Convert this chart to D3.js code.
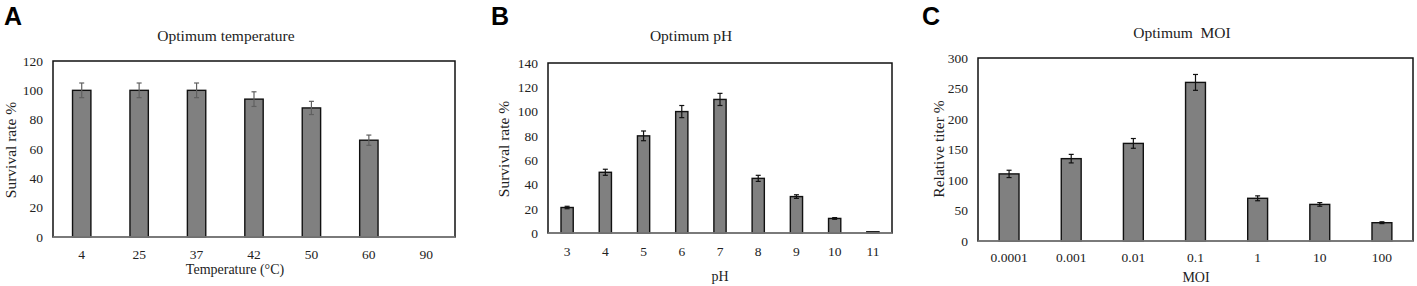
<!DOCTYPE html>
<html>
<head>
<meta charset="utf-8">
<script src="https://cdn.jsdelivr.net/npm/d3@7"></script>
<style>
    body { margin: 0; background: #fff; }
    svg text { font-family: "Liberation Serif", "Times New Roman", serif; fill: #222; }
    svg text.letter { font-family: "Liberation Sans", Arial, sans-serif; font-weight: bold; fill: #000; }
</style>
</head>
<body>
<div id="chart"></div>
<script>
// Panel A: temperature
const tempCats = ['4', '25', '37', '42', '50', '60', '90'];
const tempVals = [100, 100, 100, 94, 88, 66, 0];
const tempErr = [5, 5, 5, 5, 4.5, 3.5, 0];
const tempTicks = [0, 20, 40, 60, 80, 100, 120];

// Panel B: pH
const phCats = ['3', '4', '5', '6', '7', '8', '9', '10', '11'];
const phVals = [21, 50, 80, 100, 110, 45, 30, 12, 1];
const phErr = [1, 2.5, 4, 5, 5, 2.5, 1.5, 0.7, 0];
const phTicks = [0, 20, 40, 60, 80, 100, 120, 140];

// Panel C: MOI
const moiCats = ['0.0001', '0.001', '0.01', '0.1', '1', '10', '100'];
const moiVals = [110, 135, 160, 260, 70, 60, 30];
const moiErr = [6, 7, 8, 13, 4, 3, 1.5];
const moiTicks = [0, 50, 100, 150, 200, 250, 300];

const svg = d3.select('#chart')
    .append('svg')
    .attr('width', 1417)
    .attr('height', 286);

function drawPanel(p) {
    const g = svg.append('g');

    const x = d3.scaleBand()
        .domain(p.cats)
        .range([p.left, p.right])
        .paddingInner(0.68)
        .paddingOuter(0.34);

    const y = d3.scaleLinear()
        .domain([0, d3.max(p.ticks)])
        .range([p.bottom, p.top]);

    // frame
    g.append('rect')
        .attr('x', p.left)
        .attr('y', p.top)
        .attr('width', p.right - p.left)
        .attr('height', p.bottom - p.top)
        .attr('fill', 'none')
        .attr('stroke', '#111')
        .attr('stroke-width', 1.5);

    const data = p.cats.map((c, i) => ({ c, v: p.vals[i], e: p.err[i] }));

    // bars
    g.selectAll('.bar')
        .data(data)
        .join('rect')
        .attr('class', 'bar')
        .attr('x', d => x(d.c))
        .attr('y', d => y(d.v))
        .attr('width', x.bandwidth())
        .attr('height', d => y(0) - y(d.v))
        .attr('fill', '#808080')
        .attr('stroke', '#111')
        .attr('stroke-width', d => d.v > 0 ? 1.4 : 0);

    // bottom axis line (gray)
    g.append('line')
        .attr('x1', p.left)
        .attr('x2', p.right)
        .attr('y1', y(0))
        .attr('y2', y(0))
        .attr('stroke', '#8a8a8a')
        .attr('stroke-width', 1.5);

    // error bars
    const eb = g.selectAll('.err')
        .data(data.filter(d => d.e > 0))
        .join('g')
        .attr('class', 'err')
        .attr('stroke', p.errColor)
        .attr('stroke-width', 1.2);
    const cx = d => x(d.c) + x.bandwidth() / 2;
    eb.append('line')
        .attr('x1', cx).attr('x2', cx)
        .attr('y1', d => y(d.v - d.e))
        .attr('y2', d => y(d.v + d.e));
    eb.append('line')
        .attr('x1', d => cx(d) - 2.5).attr('x2', d => cx(d) + 2.5)
        .attr('y1', d => y(d.v + d.e)).attr('y2', d => y(d.v + d.e));
    eb.append('line')
        .attr('x1', d => cx(d) - 2.5).attr('x2', d => cx(d) + 2.5)
        .attr('y1', d => y(d.v - d.e)).attr('y2', d => y(d.v - d.e));

    // y axis
    const yAxis = g.append('g')
        .attr('transform', `translate(${p.left - 4},0)`)
        .call(d3.axisLeft(y).tickValues(p.ticks).tickSize(0).tickPadding(6));
    yAxis.select('.domain').remove();
    yAxis.selectAll('text')
        .attr('font-family', null)
        .attr('fill', null)
        .style('font-size', '13.5px');

    // x axis
    const xAxis = g.append('g')
        .attr('transform', `translate(0,${y(0)})`)
        .call(d3.axisBottom(x).tickSize(0).tickPadding(p.xPad));
    xAxis.select('.domain').remove();
    xAxis.selectAll('text')
        .attr('font-family', null)
        .attr('fill', null)
        .style('font-size', '13.5px');

    // title
    g.append('text')
        .attr('x', p.titleX)
        .attr('y', p.titleY)
        .attr('text-anchor', 'middle')
        .style('font-size', '15.5px')
        .style('white-space', 'pre')
        .text(p.title);

    // x label
    g.append('text')
        .attr('x', p.xLabelX)
        .attr('y', p.xLabelY)
        .attr('text-anchor', 'middle')
        .style('font-size', '14px')
        .text(p.xLabel);

    // y label
    g.append('text')
        .attr('transform', `translate(${p.yLabelX},${p.yLabelY}) rotate(-90)`)
        .attr('text-anchor', 'middle')
        .style('font-size', '15.5px')
        .text(p.yLabel);

    // panel letter
    g.append('text')
        .attr('class', 'letter')
        .attr('x', p.letterX)
        .attr('y', 25)
        .style('font-size', '25px')
        .text(p.letter);
}

drawPanel({
    cats: tempCats, vals: tempVals, err: tempErr, ticks: tempTicks,
    left: 53, right: 455, top: 61, bottom: 237, xPad: 12,
    errColor: '#606060',
    title: 'Optimum temperature', titleX: 226, titleY: 41,
    xLabel: 'Temperature (°C)', xLabelX: 235, xLabelY: 274,
    yLabel: 'Survival rate %', yLabelX: 16, yLabelY: 150,
    letter: 'A', letterX: 4
});

drawPanel({
    cats: phCats, vals: phVals, err: phErr, ticks: phTicks,
    left: 548, right: 892, top: 63, bottom: 233, xPad: 13,
    errColor: '#111',
    title: 'Optimum pH', titleX: 691, titleY: 41,
    xLabel: 'pH', xLabelX: 720, xLabelY: 281,
    yLabel: 'Survival rate %', yLabelX: 509, yLabelY: 149,
    letter: 'B', letterX: 491
});

drawPanel({
    cats: moiCats, vals: moiVals, err: moiErr, ticks: moiTicks,
    left: 978, right: 1413, top: 58, bottom: 241, xPad: 11,
    errColor: '#111',
    title: 'Optimum  MOI', titleX: 1182, titleY: 38,
    xLabel: 'MOI', xLabelX: 1196, xLabelY: 282,
    yLabel: 'Relative titer %', yLabelX: 944, yLabelY: 149,
    letter: 'C', letterX: 922
});
</script>
</body>
</html>
